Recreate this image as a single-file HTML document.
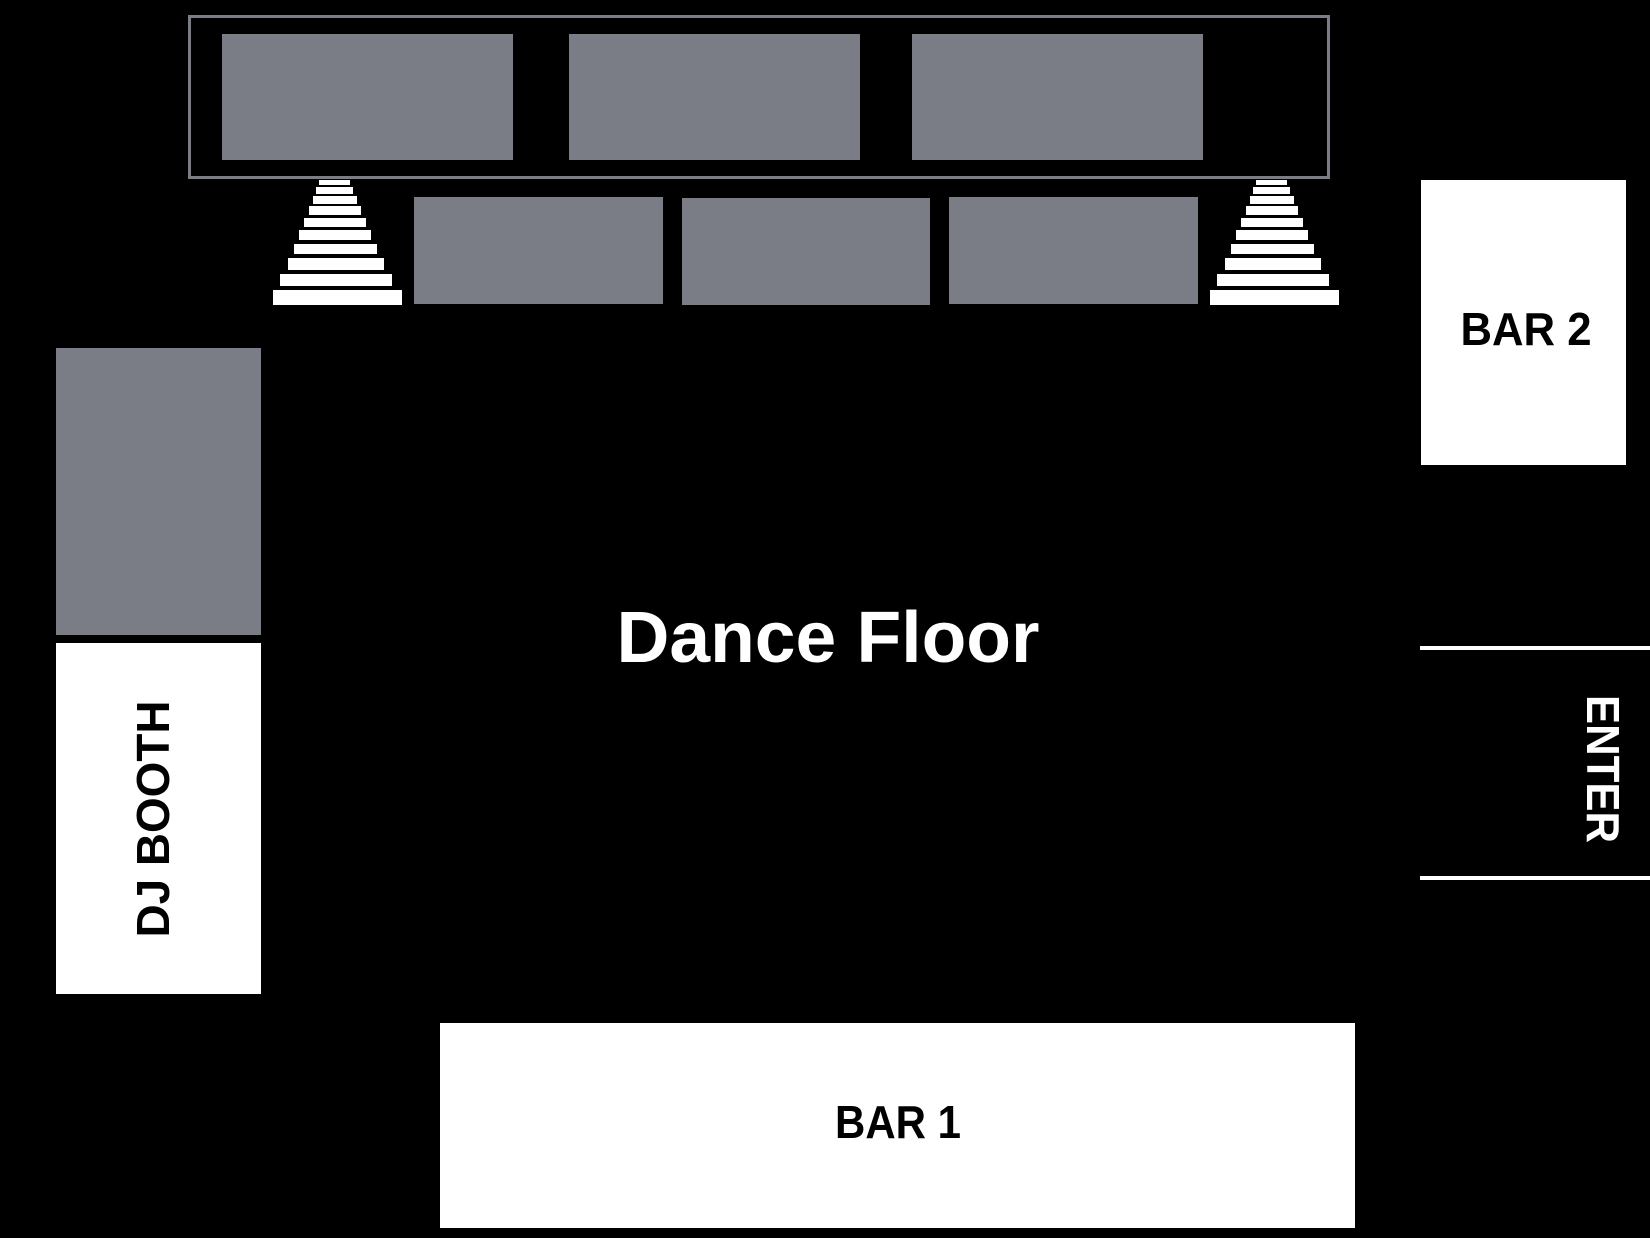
<!DOCTYPE html>
<html><head><meta charset="utf-8"><style>html,body{margin:0;padding:0;background:#000;width:1650px;height:1238px;overflow:hidden}</style></head>
<body>
<svg width="1650" height="1238" viewBox="0 0 1650 1238" xmlns="http://www.w3.org/2000/svg" font-family="Liberation Sans, sans-serif" font-weight="bold">
<rect width="1650" height="1238" fill="#000"/>
<rect x="189.5" y="16.5" width="1139" height="161" fill="none" stroke="#7a7d85" stroke-width="3"/>
<g fill="#7a7d85">
<rect x="222" y="34" width="291" height="126"/>
<rect x="569" y="34" width="291" height="126"/>
<rect x="912" y="34" width="291" height="126"/>
<rect x="414" y="197" width="249" height="107"/>
<rect x="682" y="198" width="248" height="107"/>
<rect x="949" y="197" width="249" height="107"/>
<rect x="56" y="348" width="205" height="287"/>
</g>
<g id="st" fill="#fff">
<rect x="319" y="180" width="31" height="5"/>
<rect x="316" y="187" width="37" height="7"/>
<rect x="313" y="196" width="44" height="8"/>
<rect x="309" y="206" width="52" height="9"/>
<rect x="304" y="218" width="62" height="9"/>
<rect x="299" y="230" width="72" height="10"/>
<rect x="294" y="244" width="83" height="10"/>
<rect x="288" y="258" width="96" height="12"/>
<rect x="280" y="274" width="112" height="12"/>
<rect x="273" y="290" width="129" height="15"/>
</g>
<use href="#st" x="937"/>
<rect x="1421" y="180" width="205" height="285" fill="#fff"/>
<text x="1526" y="345" font-size="46" text-anchor="middle" textLength="131" lengthAdjust="spacingAndGlyphs" fill="#000">BAR 2</text>
<rect x="56" y="643" width="205" height="351" fill="#fff"/>
<text transform="translate(169,819) rotate(-90)" font-size="46" text-anchor="middle" textLength="237" lengthAdjust="spacingAndGlyphs" fill="#000">DJ BOOTH</text>
<text x="828" y="662" font-size="72" text-anchor="middle" textLength="423" lengthAdjust="spacingAndGlyphs" fill="#fff">Dance Floor</text>
<rect x="440" y="1023" width="915" height="205" fill="#fff"/>
<text x="898" y="1138" font-size="46" text-anchor="middle" textLength="126" lengthAdjust="spacingAndGlyphs" fill="#000">BAR 1</text>
<rect x="1420" y="646" width="230" height="4" fill="#fff"/>
<rect x="1420" y="876" width="230" height="4" fill="#fff"/>
<text transform="translate(1587,769) rotate(90)" font-size="46" text-anchor="middle" textLength="148" lengthAdjust="spacingAndGlyphs" fill="#fff">ENTER</text>
</svg>
</body></html>
